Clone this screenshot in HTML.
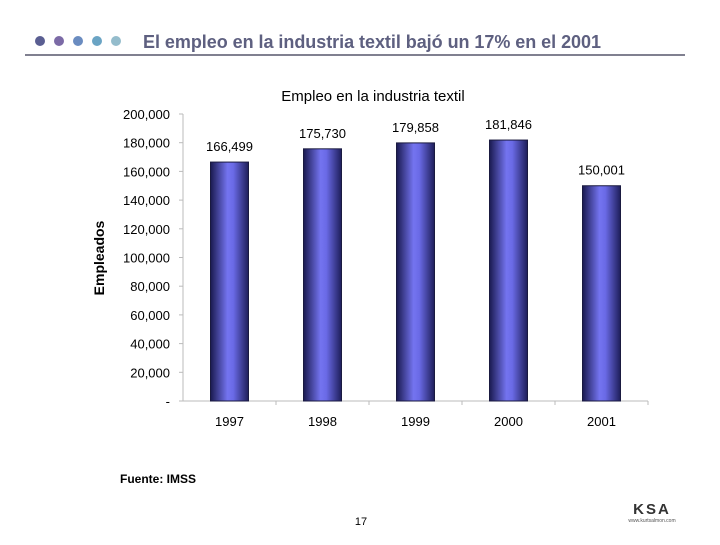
<!DOCTYPE html>
<html><head><meta charset="utf-8"><style>
body{margin:0;background:#fff;font-family:"Liberation Sans",sans-serif}
</style></head><body>
<svg width="720" height="540" viewBox="0 0 720 540" xmlns="http://www.w3.org/2000/svg" font-family="Liberation Sans, sans-serif">
<defs>
<linearGradient id="bg" x1="0" x2="1" y1="0" y2="0">
<stop offset="0" stop-color="#1a1a50"/><stop offset="0.45" stop-color="#7474f0"/><stop offset="0.6" stop-color="#6a6ae6"/><stop offset="1" stop-color="#1e1e5a"/>
</linearGradient>
</defs>
<g>
<circle cx="40" cy="41" r="5" fill="#5a5e92"/><circle cx="59" cy="41" r="5" fill="#7b6aa6"/><circle cx="78" cy="41" r="5" fill="#6a8cc0"/><circle cx="97" cy="41" r="5" fill="#6aa4c4"/><circle cx="116" cy="41" r="5" fill="#94bccc"/>
</g>
<text x="143" y="48" font-size="18" font-weight="bold" fill="#5e6080" textLength="458">El empleo en la industria textil bajó un 17% en el 2001</text>
<line x1="25" y1="55" x2="685" y2="55" stroke="#808090" stroke-width="2"/>
<text x="373" y="101" font-size="15" text-anchor="middle" fill="#000">Empleo en la industria textil</text>
<text transform="translate(104,258) rotate(-90)" font-size="14" font-weight="bold" text-anchor="middle">Empleados</text>
<g id="axes"></g>
<g id="bars"></g>
<text x="120" y="483" font-size="12" font-weight="bold">Fuente: IMSS</text>
<text x="361" y="525" font-size="11" text-anchor="middle">17</text>
<text x="652" y="514" font-size="15" font-weight="bold" text-anchor="middle" fill="#333" letter-spacing="2">KSA</text>
<text x="652" y="522" font-size="5" text-anchor="middle" fill="#555">www.kurtsalmon.com</text>
</svg>
<script>
const categories=["1997","1998","1999","2000","2001"];
const values=[166499,175730,179858,181846,150001];
const valueLabels=["166,499","175,730","179,858","181,846","150,001"];
const ticks=[0,20000,40000,60000,80000,100000,120000,140000,160000,180000,200000];
const tickLabels=["-","20,000","40,000","60,000","80,000","100,000","120,000","140,000","160,000","180,000","200,000"];
const NS="http://www.w3.org/2000/svg";
const y0=401,yTop=114,x0=183,x1=648;
const y=v=>y0-(v/200000)*(y0-yTop);
const band=(x1-x0)/categories.length;
const xc=i=>x0+band*(i+0.5);
function mk(t,a,p){const e=document.createElementNS(NS,t);for(const k in a)e.setAttribute(k,a[k]);p.appendChild(e);return e;}
const ax=document.getElementById('axes'),bs=document.getElementById('bars');
const yl=mk('line',{x1:x0,y1:yTop,x2:x0,y2:y0,stroke:'#bbb'},ax);


const xl=mk('line',{x1:x0,y1:y0,x2:x1,y2:y0,stroke:'#bbb'},ax);


ticks.forEach((t,i)=>{
 mk('line',{x1:x0-4,y1:y(t),x2:x0,y2:y(t),stroke:'#bbb'},ax);
 const tx=mk('text',{x:170,y:y(t)+5,'font-size':13,'text-anchor':'end'},ax);
 tx.textContent=tickLabels[i];
 
 
});
categories.forEach((c,i)=>{
 const w=38;
 const r=mk('rect',{x:xc(i)-w/2,y:y(values[i]),width:w,height:y0-y(values[i]),fill:'url(#bg)',stroke:'#1a1a40','stroke-width':1},bs);
 
 
 const l=mk('text',{x:xc(i),y:y(values[i])-11,'font-size':13,'text-anchor':'middle'},bs);
 l.textContent=valueLabels[i];
 
 
 mk('line',{x1:x0+band*(i+1),y1:y0,x2:x0+band*(i+1),y2:y0+4,stroke:'#bbb'},ax);
 const cl=mk('text',{x:xc(i),y:y0+25,'font-size':13,'text-anchor':'middle'},ax);
 cl.textContent=c;
 
 
});
</script>
</body></html>
